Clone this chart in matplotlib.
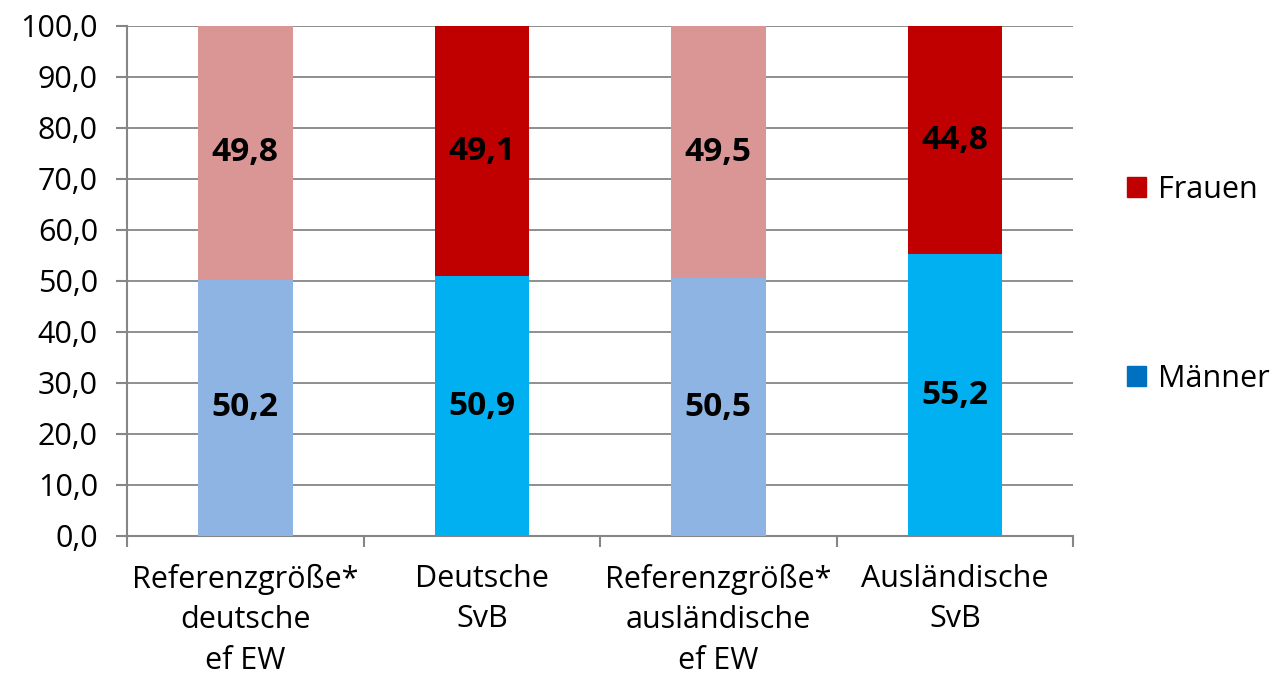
import matplotlib.pyplot as plt
from matplotlib.patches import Patch
import numpy as np

plt.rcParams['font.family'] = ['Open Sans', 'DejaVu Sans']

kategorien = ["Referenzgröße*\ndeutsche\nef EW", "Deutsche\nSvB",
              "Referenzgröße*\nausländische\nef EW", "Ausländische\nSvB"]
maenner = [50.2, 50.9, 50.5, 55.2]
frauen = [49.8, 49.1, 49.5, 44.8]
farben_m = ["#8DB4E2", "#00B0F0", "#8DB4E2", "#00B0F0"]
farben_f = ["#D99694", "#C00000", "#D99694", "#C00000"]

fig = plt.figure(figsize=(12.73, 6.8), dpi=100)
ax = fig.add_axes([0.0998, 0.2118, 0.7432, 0.75])

x = np.arange(len(kategorien))
ax.bar(x, maenner, width=0.4, color=farben_m, zorder=3)
ax.bar(x, frauen, width=0.4, bottom=maenner, color=farben_f, zorder=3)

for i in x:
    ax.text(i, maenner[i] / 2, f"{maenner[i]:.1f}".replace(".", ","),
            ha="center", va="center", fontsize=24, fontweight="bold", zorder=4)
    ax.text(i, maenner[i] + frauen[i] / 2, f"{frauen[i]:.1f}".replace(".", ","),
            ha="center", va="center", fontsize=24, fontweight="bold", zorder=4)

ax.set_xlim(-0.5, len(kategorien) - 0.5)
ax.set_ylim(0, 100)
ax.set_yticks(np.arange(0, 101, 10))
ax.set_yticklabels([f"{v:.1f}".replace(".", ",") for v in np.arange(0, 101, 10)], fontsize=22)
ax.set_xticks(x)
ax.set_xticklabels(kategorien, fontsize=22, linespacing=1.45)
ax.set_xticks(np.arange(-0.5, len(kategorien)), minor=True)
ax.tick_params(axis="x", which="major", length=0, pad=20)
ax.tick_params(axis="x", which="minor", length=8, color="#868686", width=1.5)
ax.tick_params(axis="y", length=8, color="#868686", width=1.5, pad=13)

ax.grid(axis="y", color="#868686", linewidth=1.3, zorder=0)
for s in ["top", "right"]:
    ax.spines[s].set_visible(False)
for s in ["left", "bottom"]:
    ax.spines[s].set_color("#868686")
    ax.spines[s].set_linewidth(1.5)

handles = [Patch(color="#C00000", label="Frauen"), Patch(color="#0070C0", label="Männer")]
fig.legend(handles=handles, loc="upper left", bbox_to_anchor=(0.876, 0.761),
           frameon=False, fontsize=22, labelspacing=5.2,
           handlelength=0.6, handleheight=0.6, handletextpad=0.4, borderaxespad=0)

fig.savefig("out.png")
